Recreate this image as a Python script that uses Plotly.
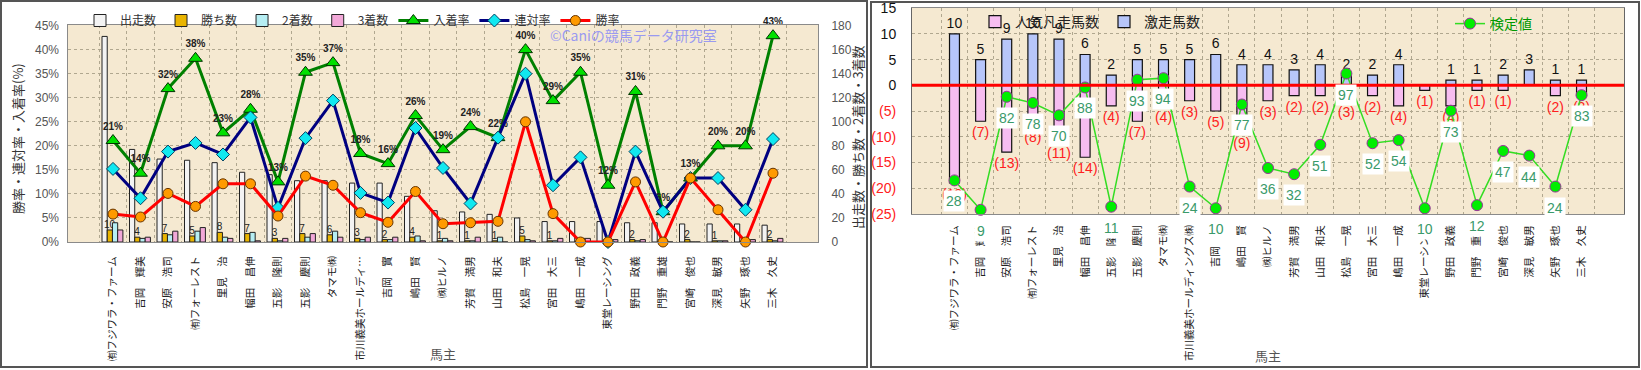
import plotly.graph_objects as go

# ---------------- data ----------------
owners = ["㈲フジワラ・ファーム", "吉岡　輝美", "安原　浩司", "㈲フォーレスト", "里見　治",
          "幅田　昌伸", "五影　隆則", "五影　慶則", "タマモ㈱", "市川義美ホールディングス㈱",
          "吉岡　實", "嶋田　賢", "㈱ヒルノ", "芳賀　満男", "山田　和夫",
          "松島　一晃", "宮田　大三", "嶋田　一成", "東堂レーシング", "野田　政義",
          "門野　重雄", "宮崎　俊也", "深見　敏男", "矢野　琢也", "三木　久史"]

starts  = [171, 77, 69, 68, 66, 58, 56, 51, 51, 49, 49, 38, 26, 25, 23, 20, 17, 17, 17, 16, 16, 15, 15, 15, 14]
wins    = [10, 4, 7, 5, 8, 7, 3, 7, 6, 3, 2, 4, 1, 1, 1, 5, 1, 0, 0, 2, 0, 2, 1, 0, 2]
seconds = [16, 3, 6, 9, 4, 8, 1, 4, 9, 2, 2, 5, 3, 1, 4, 2, 1, 3, 0, 1, 1, 0, 1, 1, 1]
thirds  = [10, 4, 9, 12, 3, 1, 3, 7, 4, 4, 4, 1, 1, 4, 0, 1, 3, 3, 2, 2, 0, 0, 1, 2, 3]

place_rate    = [21.1, 14.3, 31.9, 38.2, 22.7, 27.6, 12.5, 35.3, 37.3, 18.4, 16.3, 26.3, 19.2,
                 24.0, 21.7, 40.0, 29.4, 35.3, 11.8, 31.3, 6.3, 13.3, 20.0, 20.0, 42.9]
quinella_rate = [15.2, 9.1, 18.8, 20.6, 18.2, 25.9, 7.1, 21.6, 29.4, 10.2, 8.2, 23.7, 15.4,
                 8.0, 21.7, 35.0, 11.8, 17.6, 0.0, 18.8, 6.3, 13.3, 13.3, 6.7, 21.4]
win_rate      = [5.8, 5.2, 10.1, 7.4, 12.1, 12.1, 5.4, 13.7, 11.8, 6.1, 4.1, 10.5, 3.8,
                 4.0, 4.3, 25.0, 5.9, 0.0, 0.0, 12.5, 0.0, 13.3, 6.7, 0.0, 14.3]

surge_count = [10, 5, 9, 10, 9, 6, 2, 5, 5, 5, 6, 4, 4, 3, 4, 2, 2, 4, 0, 1, 1, 2, 3, 1, 1]
flop_count  = [19, 7, 13, 8, 11, 14, 4, 7, 4, 3, 5, 9, 3, 2, 2, 3, 2, 4, 1, 4, 1, 1, 0, 2, 2]
test_value  = [28, 9, 82, 78, 70, 88, 11, 93, 94, 24, 10, 77, 36, 32, 51, 97, 52, 54, 10, 73, 12, 47, 44, 24, 83]

pct_ticks = [0, 5, 10, 15, 20, 25, 30, 35, 40, 45]
count_ticks = [0, 20, 40, 60, 80, 100, 120, 140, 160, 180]
right_ticks = [-25, -20, -15, -10, -5, 0, 5, 10, 15]

# ---------------- layout helpers ----------------
W, H = 1641, 370
def px(x): return x / W
def py(y): return 1 - y / H

JP = "Noto Sans CJK JP, Noto Sans, sans-serif"
NUM = "Liberation Sans, Arial, sans-serif"

left_labels = [n if len(n) <= 10 else n[:9] + "…" for n in owners]

fig = go.Figure()

# ---------------- left chart: bars ----------------
bar_specs = [("出走数", starts, "#f3f3f3", -0.40),
             ("勝ち数", wins, "#e9b400", -0.21),
             ("2着数", seconds, "#b6eef3", -0.02),
             ("3着数", thirds, "#f2a8d8", 0.17)]
for name, vals, color, off in bar_specs:
    kw = {}
    if name == "勝ち数":
        kw = dict(text=[str(v) if v > 0 else "" for v in vals], textposition="outside",
                  textangle=0, constraintext="none", cliponaxis=False,
                  textfont=dict(size=10, color="#222", family=NUM))
    fig.add_trace(go.Bar(x=owners, y=vals, name=name, xaxis="x", yaxis="y",
                         offset=off, width=0.19,
                         marker=dict(color=color, line=dict(color="#222", width=1)),
                         legend="legend", **kw))

# ---------------- left chart: lines ----------------
fig.add_trace(go.Scatter(x=owners, y=place_rate, name="入着率", xaxis="x", yaxis="y2",
                         mode="lines+markers+text", cliponaxis=False,
                         line=dict(color="#008000", width=3),
                         marker=dict(symbol="triangle-up", size=12, color="#00e000",
                                     line=dict(color="#003300", width=1)),
                         texttemplate="<b>%{y:.0f}%</b>", textposition="top center",
                         textfont=dict(size=10, color="#222", family=NUM), legend="legend"))
fig.add_trace(go.Scatter(x=owners, y=quinella_rate, name="連対率", xaxis="x", yaxis="y2",
                         mode="lines+markers", cliponaxis=False,
                         line=dict(color="#000080", width=3),
                         marker=dict(symbol="diamond", size=10, color="#10e8f0",
                                     line=dict(color="#004060", width=1)),
                         legend="legend"))
fig.add_trace(go.Scatter(x=owners, y=win_rate, name="勝率", xaxis="x", yaxis="y2",
                         mode="lines+markers", cliponaxis=False,
                         line=dict(color="#ff0000", width=3),
                         marker=dict(symbol="circle", size=10, color="#ff9a00",
                                     line=dict(color="#663300", width=1)),
                         legend="legend"))

# ---------------- right chart: bars ----------------
fig.add_trace(go.Bar(x=owners, y=[-v for v in flop_count], name="人気凡走馬数",
                     xaxis="x2", yaxis="y3", width=0.38, offset=-0.19,
                     marker=dict(color="#f6bdf0", line=dict(color="#111", width=1.2)),
                     text=["(%d)" % v if v > 0 else "" for v in flop_count],
                     textposition="outside", textangle=0, constraintext="none", cliponaxis=False,
                     textfont=dict(size=14, color="#ff2020", family=NUM), legend="legend2"))
fig.add_trace(go.Bar(x=owners, y=surge_count, name="激走馬数",
                     xaxis="x2", yaxis="y3", width=0.38, offset=-0.19,
                     marker=dict(color="#b7c6fa", line=dict(color="#111", width=1.2)),
                     text=[str(v) if v > 0 else "" for v in surge_count],
                     textposition="outside", textangle=0, constraintext="none", cliponaxis=False,
                     textfont=dict(size=14, color="#111", family=NUM), legend="legend2"))

# ---------------- right chart: test value ----------------
fig.add_trace(go.Scatter(x=owners, y=test_value, name="検定値", xaxis="x2", yaxis="y4",
                         mode="lines+markers", cliponaxis=False,
                         line=dict(color="#33dd22", width=1.5),
                         marker=dict(symbol="circle", size=11, color="#00ee00",
                                     line=dict(color="#993399", width=1)),
                         legend="legend3"))

for o, v in zip(owners, test_value):
    fig.add_annotation(x=o, y=v, xref="x2", yref="y4", yshift=-21, text=str(v),
                       showarrow=False, bgcolor="white", borderpad=2,
                       xanchor="center", yanchor="middle",
                       font=dict(size=14, color="#3a9a6a", family=NUM))

# ---------------- axes ----------------
grid = dict(gridcolor="#b0a78f", griddash="dot", gridwidth=1)
xcommon = dict(type="category", tickangle=-90, tickson="boundaries", showgrid=True,
               showline=True, mirror=True, linecolor="#8a8a8a", ticks="", automargin=False,
               tickfont=dict(size=10.5, color="#222", family=JP), **grid)

pct_text = ["%d%%" % t for t in pct_ticks]
right_text = [("<span style='color:#ff2020'>(%d)</span>" % (-t)) if t < 0 else str(t) for t in right_ticks]

fig.update_layout(
    width=W, height=H, autosize=False,
    margin=dict(l=0, r=0, t=0, b=0),
    paper_bgcolor="white", plot_bgcolor="#f5e9d1",
    barmode="overlay", showlegend=True,
    xaxis=dict(domain=[px(68), px(818)], anchor="y", categoryorder="array", categoryarray=owners,
               tickvals=owners, ticktext=left_labels, ticklabelstandoff=9, **xcommon),
    yaxis=dict(domain=[py(242), py(25)], anchor="x", side="right", range=[0, 180.5],
               tickvals=count_ticks, showgrid=True, showline=True, mirror=True,
               linecolor="#8a8a8a", ticks="", ticklabelstandoff=10, automargin=False,
               tickfont=dict(size=12, color="#555", family=NUM), zeroline=False, **grid),
    yaxis2=dict(overlaying="y", anchor="x", side="left", range=[0, 45.125], tickvals=pct_ticks,
                ticktext=pct_text, showgrid=False, ticks="", ticklabelstandoff=8, automargin=False,
                tickfont=dict(size=12, color="#555", family=NUM), zeroline=False),
    xaxis2=dict(domain=[px(912), px(1624)], anchor="y3", categoryorder="array", categoryarray=owners,
                tickvals=owners, ticktext=owners, ticklabelstandoff=6, **xcommon),
    yaxis3=dict(domain=[py(214), py(8)], anchor="x2", range=[-25.05, 15.05], tickvals=right_ticks,
                ticktext=right_text, showgrid=True, showline=True, mirror=True,
                linecolor="#666", ticks="", ticklabelstandoff=12, automargin=False, zeroline=False,
                tickfont=dict(size=14, color="#111", family=NUM), **grid),
    yaxis4=dict(overlaying="y3", anchor="x2", range=[6.3, 139.3], visible=False),
    legend=dict(orientation="h", x=px(80), y=py(6), xanchor="left", yanchor="top",
                bgcolor="rgba(0,0,0,0)", font=dict(size=12, color="#333", family=JP),
                itemwidth=30, tracegroupgap=0),
    legend2=dict(orientation="h", x=px(975), y=py(6), xanchor="left", yanchor="top",
                 bgcolor="rgba(0,0,0,0)", font=dict(size=14, color="#222", family=JP),
                 itemwidth=30),
    legend3=dict(orientation="h", x=px(1450), y=py(8), xanchor="left", yanchor="top",
                 bgcolor="rgba(0,0,0,0)", font=dict(size=14, color="#009900", family=JP),
                 itemwidth=30),
)

# ---------------- titles / watermark ----------------
def paper_text(x, y, text, size, color, angle=0):
    fig.add_annotation(x=px(x), y=py(y), xref="paper", yref="paper", text=text,
                       textangle=angle, showarrow=False, xanchor="center", yanchor="middle",
                       font=dict(size=size, color=color, family=JP))

paper_text(18, 139, "勝率・連対率・入着率(%)", 13, "#333", -90)
paper_text(857, 138, "出走数・勝ち数・2着数・3着数", 13, "#333", -90)
paper_text(443, 353, "馬主", 13, "#555")
paper_text(1268, 355, "馬主", 13, "#555")
paper_text(633, 35, "©Caniの競馬データ研究室", 14, "#9a9af0")

# ---------------- shapes ----------------
fig.add_shape(type="line", xref="x2 domain", x0=0, x1=1, yref="y3", y0=0, y1=0,
              line=dict(color="#ff0000", width=3), layer="above")
fig.add_shape(type="rect", xref="paper", yref="paper", x0=px(1), x1=px(867), y0=py(367), y1=py(1),
              line=dict(color="#555", width=2), layer="above")
fig.add_shape(type="rect", xref="paper", yref="paper", x0=px(871), x1=px(1639), y0=py(367), y1=py(2),
              line=dict(color="#555", width=2), layer="above")

fig.write_html("out.html")
